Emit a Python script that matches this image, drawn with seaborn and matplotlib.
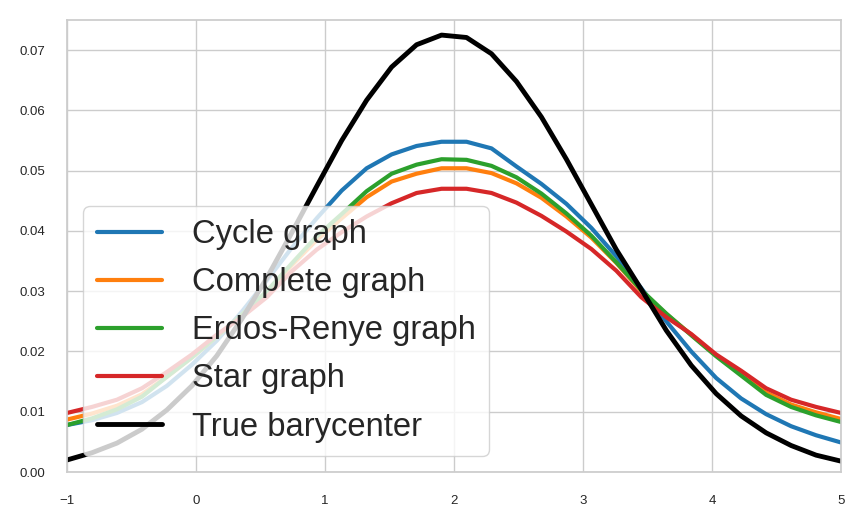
import numpy as np
import pandas as pd
import matplotlib
matplotlib.use('Agg')
import matplotlib.pyplot as plt
import seaborn as sns

# Grade de x (32 pontos entre -1 e 5)
x = np.linspace(-1, 5, 32)

# Valores
cycle = [0.0078, 0.0086, 0.0098, 0.0116, 0.0143, 0.0178, 0.0218, 0.0266,
         0.0318, 0.0372, 0.0421, 0.0467, 0.0504, 0.0527, 0.0541, 0.0548,
         0.0548, 0.0537, 0.0507, 0.0478, 0.0445, 0.0405, 0.0358, 0.0305,
         0.0250, 0.0200, 0.0156, 0.0122, 0.0096, 0.0076, 0.0061, 0.0049]
complete = [0.0087, 0.0097, 0.0110, 0.0129, 0.0158, 0.0190, 0.0225, 0.0260,
            0.0298, 0.0343, 0.0385, 0.0421, 0.0456, 0.0482, 0.0495, 0.0504,
            0.0504, 0.0496, 0.0479, 0.0455, 0.0424, 0.0389, 0.0347, 0.0300,
            0.0262, 0.0228, 0.0193, 0.0162, 0.0132, 0.0112, 0.0099, 0.0088]
erdos = [0.0078, 0.0089, 0.0104, 0.0125, 0.0158, 0.0190, 0.0225, 0.0261,
         0.0300, 0.0346, 0.0391, 0.0428, 0.0466, 0.0495, 0.0510, 0.0519,
         0.0518, 0.0508, 0.0489, 0.0462, 0.0429, 0.0392, 0.0348, 0.0302,
         0.0263, 0.0227, 0.0192, 0.0160, 0.0128, 0.0108, 0.0094, 0.0083]
star = [0.0098, 0.0108, 0.0120, 0.0139, 0.0166, 0.0195, 0.0228, 0.0257,
        0.0290, 0.0333, 0.0369, 0.0398, 0.0424, 0.0446, 0.0463, 0.0470,
        0.0470, 0.0463, 0.0447, 0.0425, 0.0399, 0.0370, 0.0334, 0.0290,
        0.0257, 0.0229, 0.0195, 0.0168, 0.0139, 0.0120, 0.0108, 0.0098]
true_bary = [0.0020, 0.0032, 0.0048, 0.0071, 0.0103, 0.0143, 0.0193, 0.0254,
             0.0322, 0.0397, 0.0474, 0.0550, 0.0617, 0.0672, 0.0709, 0.0725,
             0.0721, 0.0694, 0.0648, 0.0589, 0.0519, 0.0444, 0.0369, 0.0303,
             0.0235, 0.0177, 0.0130, 0.0093, 0.0065, 0.0044, 0.0028, 0.0018]

labels = ['Cycle graph', 'Complete graph', 'Erdos-Renye graph', 'Star graph', 'True barycenter']
series = [cycle, complete, erdos, star, true_bary]
colors = ['#1f77b4', '#ff7f0e', '#2ca02c', '#d62728', 'black']
widths = [3, 3, 3, 3, 3.5]

# Estilo
sns.set_theme(style='whitegrid')
plt.rcParams['font.family'] = ['Liberation Sans', 'DejaVu Sans']

fig, ax = plt.subplots(figsize=(8.65, 5.24), dpi=100)
fig.subplots_adjust(left=0.0775, right=0.9723, top=0.9618, bottom=0.0992)

for vals, lab, c, lw in zip(series, labels, colors, widths):
    sns.lineplot(x=x, y=vals, ax=ax, color=c, linewidth=lw, label=lab)

ax.set_xlim(-1, 5)
ax.set_ylim(0, 0.075)
ax.set_yticks(np.arange(0, 0.0701, 0.01))
ax.tick_params(labelsize=9.5)
ax.tick_params(axis='x', pad=10.6)
ax.tick_params(axis='y', pad=9.9)
ax.legend(loc='lower left', fontsize=23.6, handletextpad=0.9, labelspacing=0.52)

plt.savefig('out.png', dpi=100)
plt.close()
